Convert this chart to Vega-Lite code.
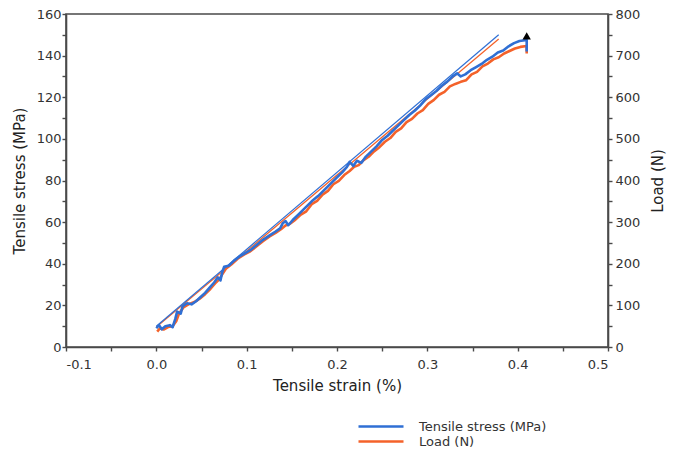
{
  "$schema": "https://vega.github.io/schema/vega-lite/v6.json",
  "width": 542,
  "height": 333,
  "autosize": {"type": "none"},
  "padding": {"left": 66, "top": 14, "right": 66, "bottom": 102},
  "background": "white",
  "config": {
    "font": "DejaVu Sans",
    "view": {"stroke": "#4a4a4a", "strokeWidth": 1.6},
    "axis": {
      "grid": false,
      "domainColor": "#4a4a4a",
      "domainWidth": 1.6,
      "tickColor": "#4a4a4a",
      "tickWidth": 1.4,
      "tickSize": 4,
      "labelFont": "DejaVu Sans",
      "labelFontSize": 13,
      "labelColor": "#333333",
      "titleFont": "DejaVu Sans",
      "titleFontSize": 15,
      "titleFontWeight": "normal",
      "titleColor": "#222222"
    },
    "legend": {
      "labelFont": "DejaVu Sans",
      "labelFontSize": 13,
      "labelColor": "#333333"
    }
  },
  "datasets": {
    "stress": [
      {"i":1,"strain":0.000,"stress":9.0},{"i":2,"strain":0.003,"stress":10.5},{"i":3,"strain":0.006,"stress":8.5},{"i":4,"strain":0.010,"stress":10.0},{"i":5,"strain":0.015,"stress":10.5},{"i":6,"strain":0.018,"stress":9.5},{"i":7,"strain":0.021,"stress":13.5},{"i":8,"strain":0.023,"stress":17.0},{"i":9,"strain":0.027,"stress":16.0},{"i":10,"strain":0.029,"stress":19.5},
      {"i":11,"strain":0.034,"stress":21.0},{"i":12,"strain":0.039,"stress":20.5},{"i":13,"strain":0.044,"stress":22.0},{"i":14,"strain":0.049,"stress":24.0},{"i":15,"strain":0.054,"stress":26.0},{"i":16,"strain":0.059,"stress":28.5},{"i":17,"strain":0.064,"stress":31.0},{"i":18,"strain":0.068,"stress":33.5},{"i":19,"strain":0.071,"stress":32.0},{"i":20,"strain":0.073,"stress":36.0},
      {"i":21,"strain":0.075,"stress":38.5},{"i":22,"strain":0.080,"stress":39.0},{"i":23,"strain":0.086,"stress":41.5},{"i":24,"strain":0.092,"stress":43.5},{"i":25,"strain":0.098,"stress":45.0},{"i":26,"strain":0.104,"stress":46.5},{"i":27,"strain":0.111,"stress":49.0},{"i":28,"strain":0.118,"stress":51.5},{"i":29,"strain":0.125,"stress":53.5},{"i":30,"strain":0.132,"stress":55.5},
      {"i":31,"strain":0.137,"stress":57.0},{"i":32,"strain":0.140,"stress":59.5},{"i":33,"strain":0.143,"stress":60.5},{"i":34,"strain":0.146,"stress":58.5},{"i":35,"strain":0.151,"stress":61.0},{"i":36,"strain":0.158,"stress":64.0},{"i":37,"strain":0.165,"stress":67.0},{"i":38,"strain":0.172,"stress":70.0},{"i":39,"strain":0.179,"stress":72.5},{"i":40,"strain":0.186,"stress":75.5},
      {"i":41,"strain":0.193,"stress":78.5},{"i":42,"strain":0.200,"stress":81.5},{"i":43,"strain":0.206,"stress":84.0},{"i":44,"strain":0.211,"stress":86.5},{"i":45,"strain":0.214,"stress":89.0},{"i":46,"strain":0.218,"stress":87.0},{"i":47,"strain":0.222,"stress":89.5},{"i":48,"strain":0.227,"stress":88.5},{"i":49,"strain":0.232,"stress":91.5},{"i":50,"strain":0.238,"stress":94.0},
      {"i":51,"strain":0.244,"stress":96.5},{"i":52,"strain":0.250,"stress":99.5},{"i":53,"strain":0.256,"stress":101.5},{"i":54,"strain":0.262,"stress":104.0},{"i":55,"strain":0.268,"stress":106.5},{"i":56,"strain":0.274,"stress":109.0},{"i":57,"strain":0.280,"stress":111.5},{"i":58,"strain":0.286,"stress":113.5},{"i":59,"strain":0.292,"stress":116.0},{"i":60,"strain":0.298,"stress":119.0},
      {"i":61,"strain":0.304,"stress":121.0},{"i":62,"strain":0.310,"stress":123.0},{"i":63,"strain":0.316,"stress":125.5},{"i":64,"strain":0.322,"stress":127.5},{"i":65,"strain":0.328,"stress":130.0},{"i":66,"strain":0.333,"stress":131.5},{"i":67,"strain":0.337,"stress":130.0},{"i":68,"strain":0.342,"stress":131.0},{"i":69,"strain":0.348,"stress":133.0},{"i":70,"strain":0.354,"stress":134.5},
      {"i":71,"strain":0.360,"stress":136.0},{"i":72,"strain":0.366,"stress":138.0},{"i":73,"strain":0.372,"stress":139.5},{"i":74,"strain":0.378,"stress":141.5},{"i":75,"strain":0.384,"stress":142.5},{"i":76,"strain":0.390,"stress":144.5},{"i":77,"strain":0.396,"stress":146.0},{"i":78,"strain":0.402,"stress":147.0},{"i":79,"strain":0.410,"stress":147.5},{"i":80,"strain":0.410,"stress":142.0}
    ],
    "load": [
      {"i":1,"strain":0.001,"load":37},{"i":2,"strain":0.004,"load":45},{"i":3,"strain":0.008,"load":42},{"i":4,"strain":0.013,"load":48},{"i":5,"strain":0.018,"load":50},{"i":6,"strain":0.022,"load":62},{"i":7,"strain":0.025,"load":80},{"i":8,"strain":0.030,"load":95},{"i":9,"strain":0.036,"load":103},{"i":10,"strain":0.042,"load":108},
      {"i":11,"strain":0.048,"load":116},{"i":12,"strain":0.054,"load":127},{"i":13,"strain":0.060,"load":140},{"i":14,"strain":0.066,"load":155},{"i":15,"strain":0.070,"load":163},{"i":16,"strain":0.073,"load":175},{"i":17,"strain":0.077,"load":188},{"i":18,"strain":0.083,"load":198},{"i":19,"strain":0.090,"load":212},{"i":20,"strain":0.097,"load":222},
      {"i":21,"strain":0.104,"load":230},{"i":22,"strain":0.111,"load":242},{"i":23,"strain":0.118,"load":254},{"i":24,"strain":0.125,"load":265},{"i":25,"strain":0.132,"load":274},{"i":26,"strain":0.138,"load":283},{"i":27,"strain":0.143,"load":292},{"i":28,"strain":0.148,"load":296},{"i":29,"strain":0.154,"load":306},{"i":30,"strain":0.160,"load":318},
      {"i":31,"strain":0.166,"load":326},{"i":32,"strain":0.172,"load":343},{"i":33,"strain":0.178,"load":351},{"i":34,"strain":0.184,"load":366},{"i":35,"strain":0.190,"load":375},{"i":36,"strain":0.196,"load":391},{"i":37,"strain":0.202,"load":399},{"i":38,"strain":0.208,"load":413},{"i":39,"strain":0.214,"load":423},{"i":40,"strain":0.219,"load":433},
      {"i":41,"strain":0.224,"load":437},{"i":42,"strain":0.229,"load":448},{"i":43,"strain":0.235,"load":457},{"i":44,"strain":0.241,"load":470},{"i":45,"strain":0.247,"load":480},{"i":46,"strain":0.253,"load":493},{"i":47,"strain":0.259,"load":502},{"i":48,"strain":0.265,"load":517},{"i":49,"strain":0.271,"load":525},{"i":50,"strain":0.277,"load":540},
      {"i":51,"strain":0.283,"load":548},{"i":52,"strain":0.289,"load":561},{"i":53,"strain":0.295,"load":569},{"i":54,"strain":0.301,"load":584},{"i":55,"strain":0.307,"load":593},{"i":56,"strain":0.313,"load":606},{"i":57,"strain":0.319,"load":613},{"i":58,"strain":0.325,"load":626},{"i":59,"strain":0.331,"load":632},{"i":60,"strain":0.337,"load":637},
      {"i":61,"strain":0.343,"load":641},{"i":62,"strain":0.349,"load":655},{"i":63,"strain":0.355,"load":661},{"i":64,"strain":0.361,"load":674},{"i":65,"strain":0.367,"load":681},{"i":66,"strain":0.373,"load":691},{"i":67,"strain":0.379,"load":696},{"i":68,"strain":0.385,"load":705},{"i":69,"strain":0.391,"load":711},{"i":70,"strain":0.397,"load":717},
      {"i":71,"strain":0.403,"load":721},{"i":72,"strain":0.410,"load":723},{"i":73,"strain":0.410,"load":705}
    ],
    "stressFit": [
      {"i":1,"strain":0.000,"stress":10.0},{"i":2,"strain":0.379,"stress":150.0}
    ],
    "loadFit": [
      {"i":1,"strain":0.000,"load":48},{"i":2,"strain":0.379,"load":740}
    ],
    "peak": [
      {"strain":0.410,"stress":149.5}
    ]
  },
  "encoding": {
    "x": {
      "field": "strain",
      "type": "quantitative",
      "scale": {"domain": [-0.1, 0.5], "nice": false, "zero": false},
      "axis": {
        "title": "Tensile strain (%)",
        "values": [-0.1, -0.05, 0, 0.05, 0.1, 0.15, 0.2, 0.25, 0.3, 0.35, 0.4, 0.45, 0.5],
        "labelExpr": "abs(datum.value * 10 - round(datum.value * 10)) < 0.001 ? replace(format(datum.value, '.1f'), '\u2212', '-') : ''",
        "labelPadding": 7,
        "titlePadding": 7
      }
    }
  },
  "layer": [
    {
      "encoding": {
        "y": {
          "field": "load",
          "type": "quantitative",
          "scale": {"domain": [0, 800], "nice": false},
          "axis": {
            "orient": "right",
            "title": "Load (N)",
            "titleAngle": -90,
            "titleBaseline": "top",
            "values": [0, 50, 100, 150, 200, 250, 300, 350, 400, 450, 500, 550, 600, 650, 700, 750, 800],
            "labelExpr": "datum.value % 100 == 0 ? datum.label : ''",
            "labelPadding": 3,
            "titlePadding": 11
          }
        },
        "color": {
          "datum": "Load (N)",
          "type": "nominal",
          "scale": {"domain": ["Tensile stress (MPa)", "Load (N)"], "range": ["#2f6fd4", "#f4622a"]},
          "legend": {
            "orient": "none",
            "legendX": 306,
            "legendY": 406,
            "title": null,
            "padding": 0,
            "symbolType": "M-4,0H5",
            "symbolSize": 100,
            "symbolStrokeWidth": 2.5,
            "labelOffset": 34,
            "rowPadding": 1
          }
        }
      },
      "layer": [
        {
          "data": {"name": "loadFit"},
          "mark": {"type": "line", "strokeWidth": 1.2},
          "encoding": {"order": {"field": "i", "type": "quantitative"}}
        },
        {
          "data": {"name": "load"},
          "mark": {"type": "line", "strokeWidth": 2.6, "strokeJoin": "round"},
          "encoding": {"order": {"field": "i", "type": "quantitative"}}
        }
      ]
    },
    {
      "encoding": {
        "y": {
          "field": "stress",
          "type": "quantitative",
          "scale": {"domain": [0, 160], "nice": false},
          "axis": {
            "orient": "left",
            "title": "Tensile stress (MPa)",
            "values": [0, 10, 20, 30, 40, 50, 60, 70, 80, 90, 100, 110, 120, 130, 140, 150, 160],
            "labelExpr": "datum.value % 20 == 0 ? datum.label : ''",
            "labelPadding": 1,
            "titlePadding": 9
          }
        },
        "color": {"datum": "Tensile stress (MPa)", "type": "nominal"}
      },
      "layer": [
        {
          "data": {"name": "stressFit"},
          "mark": {"type": "line", "strokeWidth": 1.2},
          "encoding": {"order": {"field": "i", "type": "quantitative"}}
        },
        {
          "data": {"name": "stress"},
          "mark": {"type": "line", "strokeWidth": 2.6, "strokeJoin": "round"},
          "encoding": {"order": {"field": "i", "type": "quantitative"}}
        },
        {
          "data": {"name": "peak"},
          "mark": {"type": "point", "shape": "triangle-up", "filled": true, "size": 70, "opacity": 1},
          "encoding": {"color": {"value": "black"}}
        }
      ]
    }
  ],
  "resolve": {"scale": {"y": "independent"}}
}
